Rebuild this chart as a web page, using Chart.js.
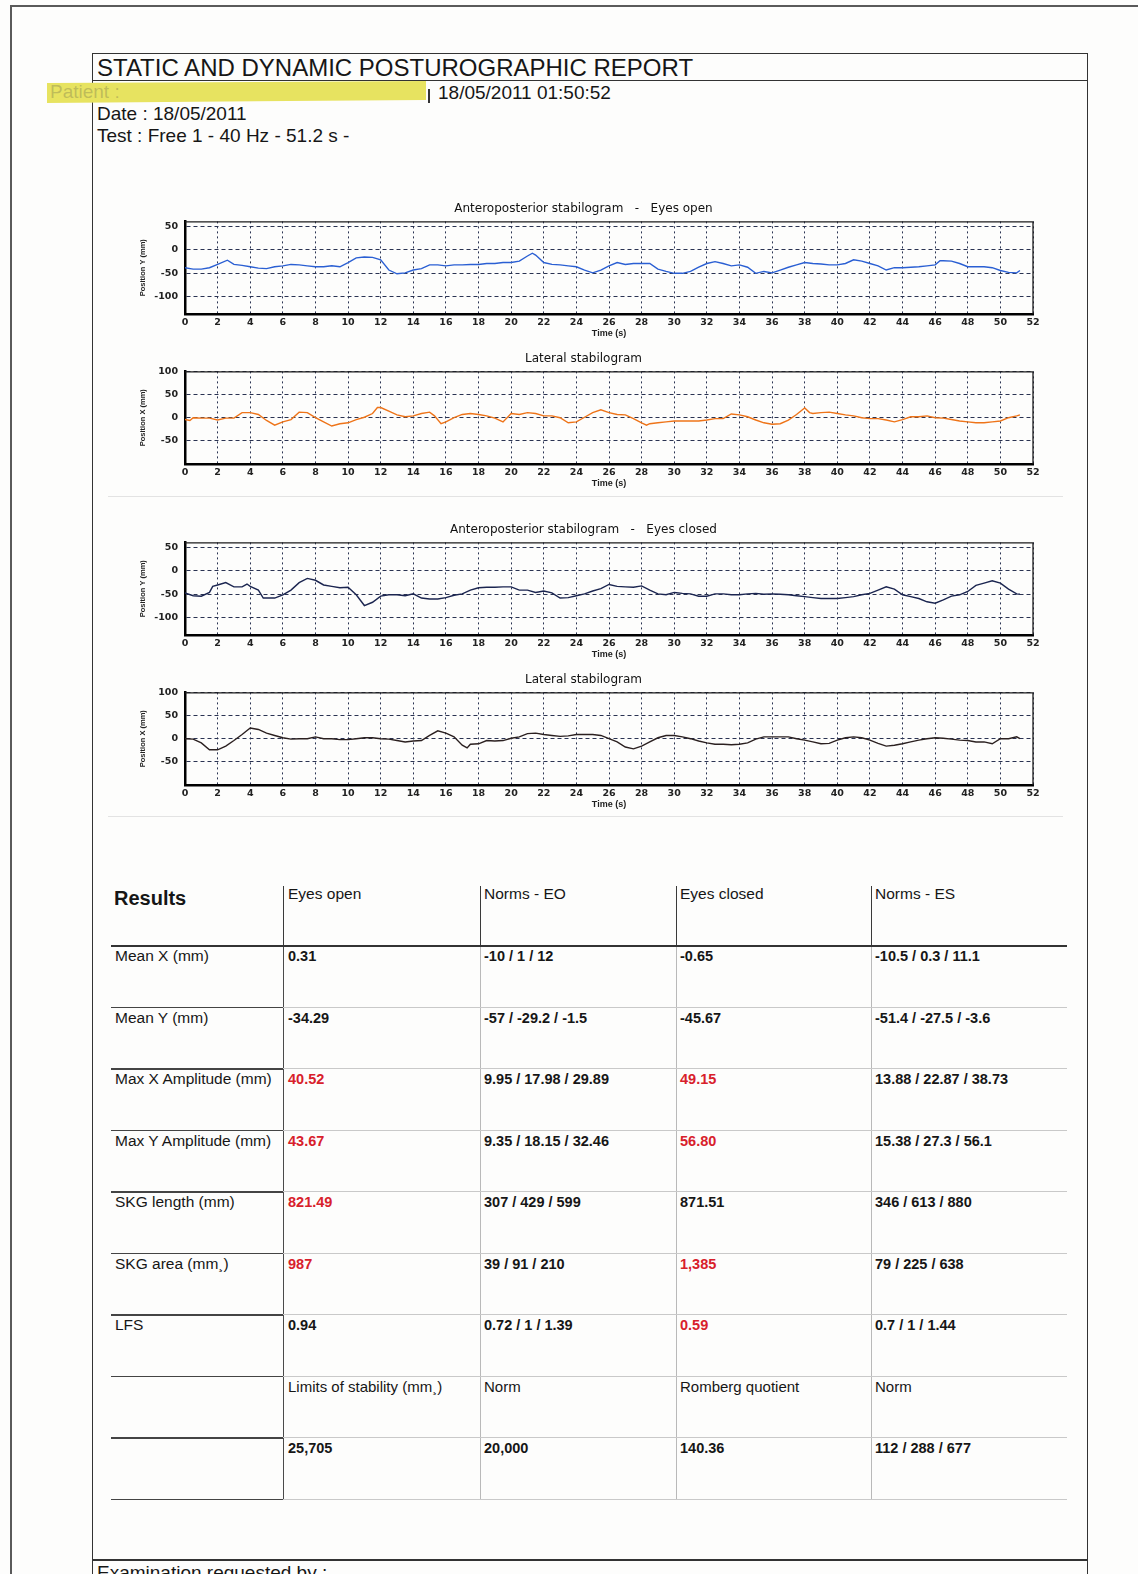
<!DOCTYPE html>
<html>
<head>
<meta charset="utf-8">
<title>Static and dynamic posturographic report</title>
<script src="https://cdn.jsdelivr.net/npm/chart.js@4.4.1/dist/chart.umd.min.js"></script>
<style>
  html, body { margin: 0; padding: 0; }
  body { width: 1138px; height: 1574px; position: relative; overflow: hidden; background: #fdfdfc;
         font-family: Arial, "Liberation Sans", sans-serif; color: #161616; }
  .abs { position: absolute; }
  .txt { position: absolute; white-space: pre; line-height: 20px; height: 20px; }
  .rule { position: absolute; background: #333; }
  canvas { position: absolute; }
</style>
</head>
<body>

<!-- sheet edges -->
<div class="rule" style="left:10px;top:5px;width:1.5px;height:1569px;background:#5a5a5a"></div>
<div class="rule" style="left:10px;top:5px;width:1128px;height:1.5px;background:#5a5a5a"></div>

<!-- report frame -->
<div class="rule" style="left:92px;top:53px;width:1px;height:1521px"></div>
<div class="rule" style="left:1087px;top:53px;width:1px;height:1521px"></div>
<div class="rule" style="left:92px;top:53px;width:996px;height:1px"></div>
<div class="rule" style="left:92px;top:80px;width:996px;height:1px"></div>
<div class="rule" style="left:92px;top:1559px;width:996px;height:1.5px"></div>

<!-- header -->
<div class="txt" style="left:97px;top:58px;font-size:24px;">STATIC AND DYNAMIC POSTUROGRAPHIC REPORT</div>
<div class="abs" style="left:47px;top:81px;width:379px;height:23px;background:rgb(231,227,96);clip-path:polygon(0 2px,100% 0,100% 19px,0 22px);"></div>
<div class="txt" style="left:50px;top:82px;font-size:19px;color:rgba(140,140,80,0.45);">Patient :</div>
<div class="rule" style="left:428px;top:89px;width:1.5px;height:14px"></div>
<div class="txt" style="left:438px;top:83px;font-size:19px;">18/05/2011 01:50:52</div>
<div class="txt" style="left:97px;top:104px;font-size:19px;">Date : 18/05/2011</div>
<div class="txt" style="left:97px;top:126px;font-size:19px;">Test : Free 1 - 40 Hz - 51.2 s -</div>

<!-- stabilograms -->
<canvas id="apOpen" width="915" height="144" style="left:130px;top:198px"></canvas>
<canvas id="latOpen" width="915" height="144" style="left:130px;top:348px"></canvas>
<div class="rule" style="left:108px;top:496px;width:955px;height:1px;background:#e3e3e3"></div>
<canvas id="apClosed" width="915" height="144" style="left:130px;top:519px"></canvas>
<canvas id="latClosed" width="915" height="144" style="left:130px;top:669px"></canvas>
<div class="rule" style="left:108px;top:816px;width:955px;height:1px;background:#e3e3e3"></div>

<!-- results table -->
<div id="results"></div>

<div class="txt" style="left:97px;top:1563px;font-size:19px;">Examination requested by :</div>

<script>
// ---- Stabilogram samples (time in s, position in mm) ----
const apOpenTime = [0,0.5,1,1.5,2,2.6,3,3.5,4,4.5,5,5.5,6,6.5,7,7.5,8,8.5,9,9.5,10,10.5,11,11.5,12,12.5,13,13.5,14,14.5,15,15.5,16,16.5,17,17.5,18,18.5,19,19.5,20,20.5,21,21.3,21.5,22,22.5,23,23.5,24,24.5,25,25.5,26,26.5,27,27.5,28,28.5,29,29.5,30,30.5,31,31.5,32,32.5,33,33.5,34,34.5,35,35.5,36,36.5,37,37.5,38,38.5,39,39.5,40,40.5,41,41.5,42,42.5,43,43.5,44,44.5,45,45.5,46,46.3,46.5,47,47.5,48,48.5,49,49.5,50,50.5,51,51.2];
const apOpenPos  = [-38,-41,-41,-38,-31,-22,-31,-33,-36,-39,-40,-36,-34,-31,-32,-34,-36,-36,-34,-36,-27,-17,-15,-16,-21,-43,-51,-49,-43,-40,-32,-32,-34,-32,-32,-31,-31,-29,-29,-27,-27,-24,-13,-7,-11,-27,-31,-32,-34,-36,-43,-49,-43,-34,-27,-31,-29,-29,-29,-41,-46,-50,-50,-46,-37,-29,-25,-29,-34,-32,-37,-50,-46,-49,-43,-37,-32,-27,-29,-30,-32,-32,-29,-21,-24,-29,-34,-43,-38,-38,-37,-36,-34,-32,-23,-23,-24,-29,-36,-36,-36,-38,-44,-48,-49,-44];

const latOpenTime = [0,0.3,0.5,1,1.5,2,2.5,3,3.5,4,4.5,5,5.5,6,6.5,7,7.5,8,8.5,9,9.5,10,10.5,11,11.5,11.8,12,12.5,13,13.5,14,14.5,15,15.3,15.7,16,16.5,17,17.5,18,18.5,19,19.5,20,20.5,21,21.5,22,22.5,23,23.5,24,24.5,25,25.5,26,26.5,27,27.5,28,28.3,28.5,29,29.5,30,30.5,31,31.5,32,32.5,33,33.5,34,34.5,35,35.5,36,36.5,37,37.5,38,38.3,38.5,39,39.5,40,40.5,41,41.5,42,42.5,43,43.5,44,44.5,45,45.5,46,46.5,47,47.5,48,48.5,49,49.5,50,50.5,51,51.2];
const latOpenPos  = [-4,-6,0,-1,-1,-5,-1,-1,11,11,7,-6,-16,-9,-4,12,11,0,-9,-18,-13,-11,-4,1,9,22,22,14,6,2,4,9,12,4,-13,-9,0,7,9,7,4,-1,-9,9,7,11,9,4,4,0,-11,-9,1,11,17,11,7,6,-2,-11,-16,-13,-11,-9,-7,-7,-7,-7,-5,-2,-2,8,6,2,-5,-11,-14,-13,-5,7,21,11,9,11,12,9,6,4,0,-2,-2,-5,-9,-4,2,2,4,0,-1,-4,-7,-9,-11,-11,-9,-7,0,4,6];

const apClosedTime = [0,0.5,1,1.5,1.7,2,2.5,3,3.5,3.8,4,4.5,4.8,5,5.5,6,6.5,7,7.5,8,8.5,9,9.5,10,10.5,11,11.5,12,12.5,13,13.5,14,14.5,15,15.5,16,16.5,17,17.5,18,18.5,19,19.5,20,20.5,21,21.5,22,22.5,23,23.5,24,24.5,25,25.5,26,26.5,27,27.5,28,28.5,29,29.5,30,30.5,31,31.5,32,32.5,33,33.5,34,34.5,35,35.5,36,36.5,37,37.5,38,38.5,39,39.5,40,40.5,41,41.5,42,42.5,43,43.5,44,44.5,45,45.5,46,46.5,47,47.5,48,48.5,49,49.5,50,50.5,51,51.2];
const apClosedPos  = [-47,-53,-54,-46,-33,-30,-25,-34,-34,-28,-33,-41,-58,-58,-58,-51,-41,-25,-16,-20,-30,-33,-36,-35,-51,-74,-67,-54,-51,-51,-53,-49,-58,-60,-60,-57,-52,-49,-41,-36,-35,-35,-34,-34,-41,-41,-46,-43,-47,-58,-57,-53,-49,-43,-38,-29,-33,-34,-35,-32,-41,-49,-51,-46,-48,-49,-54,-54,-49,-49,-51,-51,-49,-48,-50,-49,-50,-51,-53,-55,-57,-59,-59,-59,-57,-55,-51,-48,-41,-34,-39,-51,-55,-59,-66,-69,-62,-54,-51,-44,-31,-26,-21,-26,-39,-49,-50];

const latClosedTime = [0,0.5,1,1.5,2,2.5,3,3.5,4,4.5,5,5.5,6,6.5,7,7.5,8,8.5,9,9.5,10,10.5,11,11.5,12,12.5,13,13.5,14,14.5,15,15.5,16,16.5,17,17.3,17.5,18,18.5,19,19.5,20,20.5,21,21.5,22,22.5,23,23.5,24,24.5,25,25.5,26,26.5,27,27.5,28,28.5,29,29.5,30,30.5,31,31.5,32,32.5,33,33.5,34,34.5,35,35.5,36,36.5,37,37.5,38,38.5,39,39.5,40,40.5,41,41.5,42,42.5,43,43.5,44,44.5,45,45.5,46,46.5,47,47.5,48,48.5,49,49.5,50,50.5,51,51.2];
const latClosedPos  = [0,-1,-9,-24,-24,-16,-4,9,23,20,12,7,2,-1,0,0,4,0,0,-2,-2,0,2,2,0,-1,-4,-7,-5,-4,7,17,12,4,-14,-20,-12,-11,-4,-5,-4,1,4,11,12,9,7,5,6,9,9,9,7,0,-7,-18,-22,-16,-7,2,7,7,4,0,-5,-9,-12,-12,-13,-12,-9,-1,4,4,4,4,0,-3,-7,-11,-10,-3,2,4,2,-3,-10,-16,-14,-11,-7,-3,0,2,1,-1,-3,-4,-7,-7,-11,0,0,4,0];

// ---- Axis ticks ----
const timeTicks = [0,2,4,6,8,10,12,14,16,18,20,22,24,26,28,30,32,34,36,38,40,42,44,46,48,50,52];
const apTicks = [-100, -50, 0, 50];
const latTicks = [-50, 0, 50, 100];

// ---- Results ----
const rowLabels = ['Mean X (mm)', 'Mean Y (mm)', 'Max X Amplitude (mm)', 'Max Y Amplitude (mm)', 'SKG length (mm)', 'SKG area (mm\u00b8)', 'LFS'];
const eyesOpen = ['0.31', '-34.29', '40.52', '43.67', '821.49', '987', '0.94'];
const eyesOpenOutOfNorm = [false, false, true, true, true, true, false];
const normsEO = ['-10 / 1 / 12', '-57 / -29.2 / -1.5', '9.95 / 17.98 / 29.89', '9.35 / 18.15 / 32.46', '307 / 429 / 599', '39 / 91 / 210', '0.72 / 1 / 1.39'];
const eyesClosed = ['-0.65', '-45.67', '49.15', '56.80', '871.51', '1,385', '0.59'];
const eyesClosedOutOfNorm = [false, false, true, true, false, true, true];
const normsES = ['-10.5 / 0.3 / 11.1', '-51.4 / -27.5 / -3.6', '13.88 / 22.87 / 38.73', '15.38 / 27.3 / 56.1', '346 / 613 / 880', '79 / 225 / 638', '0.7 / 1 / 1.44'];
const columnHeads = ['Eyes open', 'Norms - EO', 'Eyes closed', 'Norms - ES'];
const stabilityHeads = ['Limits of stability (mm\u00b8)', 'Norm', 'Romberg quotient', 'Norm'];
const stabilityValues = ['25,705', '20,000', '140.36', '112 / 288 / 677'];

// ---- Charts ----
const chartFont = 'DejaVu Sans';

// thin top and right edges of the plotting box
const plotFrame = {
  id: 'plotFrame',
  afterDatasetsDraw(chart) {
    const { ctx, chartArea: a } = chart;
    ctx.save();
    ctx.strokeStyle = '#1c1c1c';
    ctx.lineWidth = 1.3;
    ctx.beginPath();
    ctx.moveTo(a.left, a.top + 0.5);
    ctx.lineTo(a.right, a.top + 0.5);
    ctx.lineTo(a.right, a.bottom);
    ctx.stroke();
    ctx.restore();
  }
};

function stabilogram(id, title, times, values, color, yMin, yMax, yTicks, yTitle) {
  new Chart(document.getElementById(id), {
    type: 'line',
    data: {
      datasets: [{
        data: times.map((t, i) => ({ x: t, y: values[i] })),
        borderColor: color,
        borderWidth: 1.4,
        pointRadius: 0,
        tension: 0,
        fill: false
      }]
    },
    options: {
      responsive: false,
      animation: false,
      devicePixelRatio: 1,
      events: [],
      layout: { padding: { left: 4, right: 12, top: 0, bottom: 0 } },
      plugins: {
        legend: { display: false },
        tooltip: { enabled: false },
        title: {
          display: true, text: title, color: '#111',
          font: { family: chartFont, size: 12, weight: 'normal' },
          padding: { top: 4, bottom: 5 }
        }
      },
      scales: {
        x: {
          type: 'linear', min: 0, max: 52,
          afterBuildTicks: axis => { axis.ticks = timeTicks.map(v => ({ value: v })); },
          afterFit: axis => { axis.height = 28; },
          ticks: { color: '#222', padding: 3, maxRotation: 0, autoSkip: false,
                   font: { family: chartFont, size: 9.5, weight: 'bold' } },
          grid: { color: '#2a3352', lineWidth: 1, drawTicks: false },
          border: { display: true, color: '#000', width: 2.5, dash: [2, 3] },
          title: { display: true, text: 'Time (s)', color: '#222',
                   font: { family: 'Arial', size: 9, weight: 'bold' }, padding: { top: 0, bottom: 3 } }
        },
        y: {
          min: yMin, max: yMax,
          afterBuildTicks: axis => { axis.ticks = yTicks.map(v => ({ value: v })); },
          afterFit: axis => { axis.width = 51; },
          ticks: { color: '#222', padding: 7,
                   font: { family: chartFont, size: 9.5, weight: 'bold' } },
          grid: { color: '#2a3352', lineWidth: 1, drawTicks: false },
          border: { display: true, color: '#000', width: 2.5, dash: [4, 3] },
          title: { display: true, text: yTitle, color: '#222',
                   font: { family: 'Arial', size: 7.5, weight: 'bold' }, padding: { top: 4, bottom: 0 } }
        }
      }
    },
    plugins: [plotFrame]
  });
}

stabilogram('apOpen', 'Anteroposterior stabilogram   -   Eyes open', apOpenTime, apOpenPos, '#2a5fd3', -137, 61, apTicks, 'Position Y (mm)');
stabilogram('latOpen', 'Lateral stabilogram', latOpenTime, latOpenPos, '#ee7419', -100, 100, latTicks, 'Position X (mm)');
stabilogram('apClosed', 'Anteroposterior stabilogram   -   Eyes closed', apClosedTime, apClosedPos, '#1b2550', -137, 61, apTicks, 'Position Y (mm)');
stabilogram('latClosed', 'Lateral stabilogram', latClosedTime, latClosedPos, '#2b2020', -100, 100, latTicks, 'Position X (mm)');

// ---- Results table ----
(function buildTable() {
  const host = document.getElementById('results');
  const tableLeft = 111, tableRight = 1067;
  const colLines = [283, 480, 676, 871];
  const colText = [115, 288, 484, 680, 875];
  const headTop = 886, firstLine = 945, rowStep = 61.5, rowCount = 9;
  const lastLine = firstLine + rowStep * rowCount;

  function rule(x, y, w, h, color) {
    const d = document.createElement('div');
    d.className = 'rule';
    d.style.cssText = `left:${x}px;top:${y}px;width:${w}px;height:${h}px;background:${color}`;
    host.appendChild(d);
  }
  function text(x, cy, str, size, bold, color) {
    const d = document.createElement('div');
    d.className = 'txt';
    d.textContent = str;
    d.style.cssText = `left:${x}px;top:${cy - 10}px;font-size:${size}px;font-weight:${bold ? 'bold' : 'normal'};color:${color || '#161616'}`;
    host.appendChild(d);
  }

  // column separators
  colLines.forEach((x, i) => {
    rule(x, headTop, 1, firstLine - headTop, '#3a3a3a');
    rule(x, firstLine, 1, lastLine - firstLine, i === 0 ? '#4a4a4a' : '#b9b9b9');
  });
  // row separators
  rule(tableLeft, firstLine, tableRight - tableLeft, 1.5, '#333');
  for (let r = 1; r <= rowCount; r++) {
    const y = firstLine + rowStep * r;
    rule(tableLeft, y, colLines[0] - tableLeft, 1.5, '#444');
    rule(colLines[0], y, tableRight - colLines[0], 1, '#c9c9c9');
  }

  // headings
  text(114, 898, 'Results', 20, true);
  columnHeads.forEach((h, i) => text(colText[i + 1], 894, h, 15.5, false));

  // measured rows
  const red = '#d8202b';
  rowLabels.forEach((lab, r) => {
    const cy = firstLine + rowStep * r + 11;
    text(colText[0], cy, lab, 15.5, false);
    text(colText[1], cy, eyesOpen[r], 14.5, true, eyesOpenOutOfNorm[r] ? red : null);
    text(colText[2], cy, normsEO[r], 14.5, true);
    text(colText[3], cy, eyesClosed[r], 14.5, true, eyesClosedOutOfNorm[r] ? red : null);
    text(colText[4], cy, normsES[r], 14.5, true);
  });

  // stability / Romberg rows
  const cyHead = firstLine + rowStep * 7 + 11;
  const cyVal = firstLine + rowStep * 8 + 11;
  stabilityHeads.forEach((h, i) => text(colText[i + 1], cyHead, h, 15, false));
  stabilityValues.forEach((v, i) => text(colText[i + 1], cyVal, v, 14.5, true));
})();
</script>
</body>
</html>
